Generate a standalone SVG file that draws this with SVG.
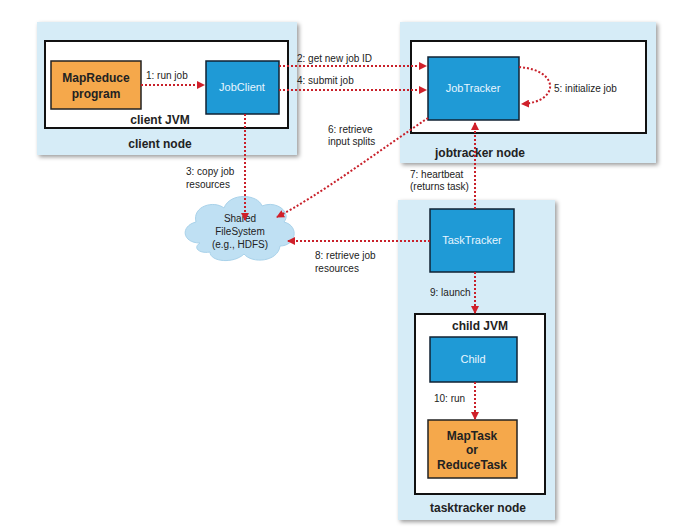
<svg xmlns="http://www.w3.org/2000/svg" width="697" height="531" viewBox="0 0 697 531">
<style>
text{font-family:"Liberation Sans",Arial,sans-serif;font-size:10px;fill:#222}
.outer{fill:#d6ecf7;filter:drop-shadow(2px 2px 2px #999)}
.inner{fill:#fff;stroke:#111;stroke-width:2}
.blue{fill:#1f9ad6;stroke:#123;stroke-width:1.5}
.org{fill:#f5a84b;stroke:#222;stroke-width:1.5}
.bt{fill:#e8f6ff;font-size:11px;text-anchor:middle}
.ot{font-weight:bold;font-size:12px;text-anchor:middle}
.lbl{font-weight:bold;font-size:12px;text-anchor:middle}
.c{fill:none;stroke:#c8202a;stroke-width:2;stroke-dasharray:2 2}
</style>
<defs><marker id="a" markerWidth="8" markerHeight="8" refX="7" refY="4" orient="auto" markerUnits="userSpaceOnUse"><path d="M0,0L8,4L0,8z" fill="#d0202a"/></marker></defs>
<rect width="697" height="531" fill="#fff"/>
<g id="client-node">
<rect class="outer" x="37" y="22" width="260" height="133"/>
<rect class="inner" x="45" y="41" width="243" height="87"/>
<text class="lbl" x="160" y="124">client JVM</text>
<text class="lbl" x="160" y="148">client node</text>
</g>
<g id="mapreduce"><rect class="org" x="51" y="61" width="90" height="48"/><text class="ot" x="96" y="82">MapReduce</text><text class="ot" x="96" y="98">program</text></g>
<g id="jobclient"><rect class="blue" x="206" y="61" width="73" height="53"/><text class="bt" x="242" y="91">JobClient</text></g>
<g id="jobtracker-node">
<rect class="outer" x="400" y="22" width="256" height="141"/>
<rect class="inner" x="411" y="41" width="235" height="92"/>
<text class="lbl" x="480" y="157">jobtracker node</text>
</g>
<g id="jobtracker"><rect class="blue" x="428" y="57" width="91" height="63"/><text class="bt" x="473" y="92">JobTracker</text></g>
<g id="tasktracker-node">
<rect class="outer" x="398" y="200" width="157" height="320"/>
<rect class="inner" x="415" y="314" width="130" height="180"/>
<text class="lbl" x="480" y="330">child JVM</text>
<text class="lbl" x="478" y="512">tasktracker node</text>
</g>
<g id="tasktracker"><rect class="blue" x="430" y="209" width="84" height="63"/><text class="bt" x="472" y="244">TaskTracker</text></g>
<g id="child"><rect class="blue" x="430" y="337" width="87" height="45"/><text class="bt" x="473" y="363">Child</text></g>
<g id="maptask"><rect class="org" x="428" y="420" width="89" height="58"/><text class="ot" x="472" y="440">MapTask</text><text class="ot" x="472" y="454">or</text><text class="ot" x="472" y="469">ReduceTask</text></g>
<g id="hdfs">
<path d="M200,243 C182,243 180,226 196,222 C192,206 214,200 224,208 C230,192 258,194 262,206 C276,200 292,212 284,222 C300,226 296,246 280,246 C278,262 252,264 244,254 C234,264 210,262 210,252 C200,254 192,248 200,243z" fill="#bfe0f3" stroke="#a9d2ea"/>
<text x="240" y="222" text-anchor="middle" font-size="11">Shared</text>
<text x="240" y="235" text-anchor="middle" font-size="11">FileSystem</text>
<text x="240" y="248" text-anchor="middle" font-size="11">(e.g., HDFS)</text>
</g>
<g id="connectors">
<path class="c" d="M141,85H204" marker-end="url(#a)"/>
<path class="c" d="M279,66H426" marker-end="url(#a)"/>
<path class="c" d="M279,90H426" marker-end="url(#a)"/>
<path class="c" d="M245,114V220" marker-end="url(#a)"/>
<path class="c" d="M519,67C560,70 560,102 522,104" marker-end="url(#a)"/>
<path class="c" d="M428,118C380,150 320,195 277,217" marker-end="url(#a)"/>
<path class="c" d="M475,209V123" marker-end="url(#a)"/>
<path class="c" d="M430,241H288" marker-end="url(#a)"/>
<path class="c" d="M475,272V313" marker-end="url(#a)"/>
<path class="c" d="M475,382V419" marker-end="url(#a)"/>
</g>
<g id="labels">
<text x="146" y="79">1: run job</text>
<text x="297" y="62">2: get new job ID</text>
<text x="297" y="84">4: submit job</text>
<text x="186" y="175">3: copy job</text>
<text x="186" y="188">resources</text>
<text x="554" y="92">5: initialize job</text>
<text x="328" y="133">6: retrieve</text>
<text x="328" y="145">input splits</text>
<text x="410" y="178">7: heartbeat</text>
<text x="410" y="190">(returns task)</text>
<text x="315" y="259">8: retrieve job</text>
<text x="315" y="272">resources</text>
<text x="430" y="296">9: launch</text>
<text x="434" y="402">10: run</text>
</g>
</svg>
